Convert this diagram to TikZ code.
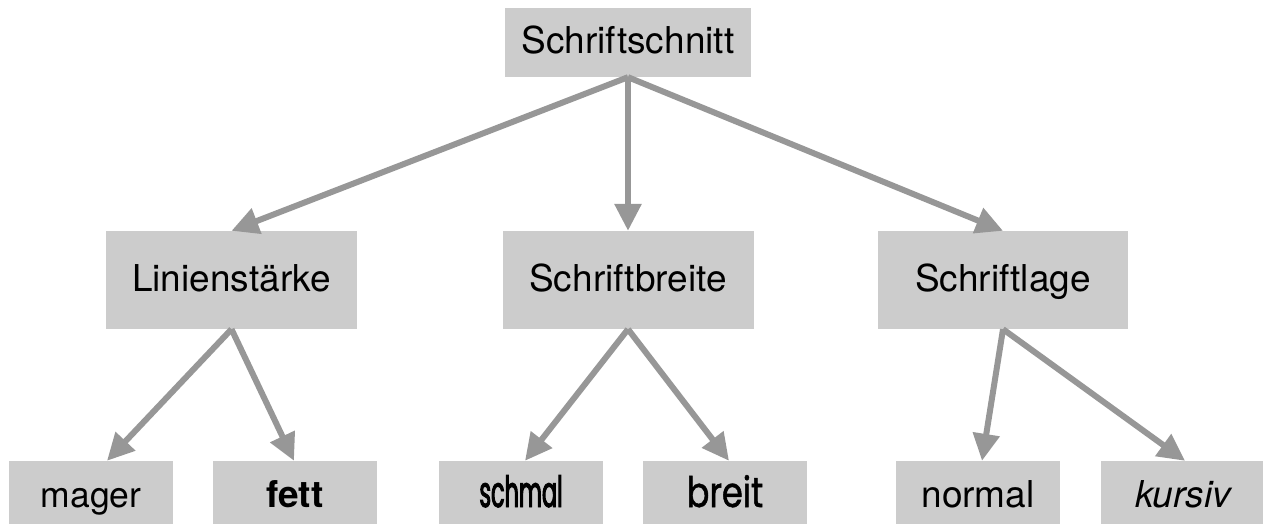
\documentclass[tikz,border=0pt]{standalone}
\usepackage{fontspec}
\setmainfont{TeX Gyre Heros}
\newfontfamily\futura[FakeBold=1.2,FakeStretch=0.8]{Poppins}
\newfontfamily\futuracond[FakeBold=2.2,FakeStretch=0.52]{Poppins}
\usetikzlibrary{arrows.meta}
\definecolor{boxgray}{HTML}{CCCCCC}
\definecolor{arrgray}{HTML}{979797}
\tikzset{
  box/.style={fill=boxgray, inner sep=0pt, minimum height=69pt, minimum width=164pt,
    font=\fontsize{37}{44}\selectfont, text height=26.6pt, text depth=3.6pt},
  midbox/.style={box, minimum height=98pt, minimum width=251pt},
  topbox/.style={box, minimum height=69pt, minimum width=246pt},
  arr/.style={draw=arrgray, line width=6pt, -{Triangle[width=26pt,length=27pt]}}
}
\begin{document}
\begin{tikzpicture}[x=1pt,y=-1pt]
\useasboundingbox (0,0) rectangle (1263,524);
\node[topbox] (top) at (628,42.5) {Schriftschnitt};
\node[midbox] (lin) at (231.5,280) {Linienstärke};
\node[midbox] (brt) at (628,280) {Schriftbreite};
\node[midbox, minimum width=250pt] (lag) at (1003,280) {Schriftlage};
\node[box, font=\fontsize{35.5}{42}\selectfont] (mag) at (91,495.5) {mager};
\node[box] (fet) at (295,495.5) {\bfseries fett};
\node[box, font=\fontsize{43}{50}\futuracond] (sch) at (521,495.5) {schmal};
\node[box, font=\fontsize{42}{50}\futura] (bre) at (725,495.5) {breit};
\node[box] (nor) at (978,495.5) {normal};
\node[box] (kur) at (1183,495.5) {\itshape kursiv};
\draw[arr] (top.south) -- (lin.north);
\draw[arr] (top.south) -- (brt.north);
\draw[arr] (top.south) -- (lag.north);
\draw[arr] (lin.south) -- ([xshift=16pt]mag.north);
\draw[arr] (lin.south) -- ([xshift=-1pt]fet.north);
\draw[arr] (brt.south) -- ([xshift=4pt]sch.north);
\draw[arr] (brt.south) -- ([xshift=4pt]bre.north);
\draw[arr] (lag.south) -- ([xshift=4pt]nor.north);
\draw[arr] (lag.south) -- ([xshift=2pt]kur.north);
\end{tikzpicture}
\end{document}
